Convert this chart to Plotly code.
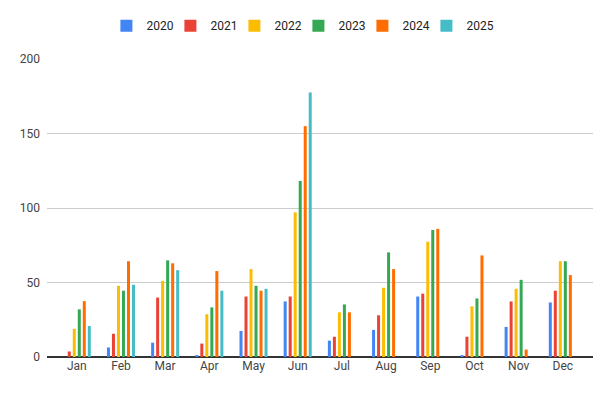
import plotly.graph_objects as go

months = ["Jan", "Feb", "Mar", "Apr", "May", "Jun", "Jul", "Aug", "Sep", "Oct", "Nov", "Dec"]
years = ["2020", "2021", "2022", "2023", "2024", "2025"]

v2020 = [0, 6.4, 9.6, 1.3, 17.5, 37.3, 11, 18.2, 40.6, 1.1, 20.2, 36.6]
v2021 = [3.7, 15.6, 39.9, 9, 40.6, 40.6, 13.6, 28, 42.5, 13.6, 37.3, 44.5]
v2022 = [18.9, 47.8, 51.1, 28.7, 59, 97.1, 30, 46.5, 77.4, 34, 45.8, 64.3]
v2023 = [32, 44.5, 64.9, 33.3, 47.8, 118.2, 35.3, 70.2, 85.3, 39.3, 51.8, 64.3]
v2024 = [37.5, 64.3, 62.9, 57.7, 44.5, 155, 30, 59, 86, 68.2, 5, 55]
v2025 = [20.8, 48.5, 58.3, 44.5, 45.8, 177.6, None, None, None, None, None, None]

series = [v2020, v2021, v2022, v2023, v2024, v2025]
colors = ["#4285F4", "#EA4335", "#FBBC04", "#34A853", "#FF6D01", "#46BDC6"]

fig = go.Figure()
for name, vals, col in zip(years, series, colors):
    fig.add_trace(go.Bar(x=months, y=vals, name=name, marker=dict(color=col, line=dict(width=0))))

# invisible spacer entry so the last legend label is not clipped
fig.add_trace(go.Scatter(x=[None], y=[None], name=" ", mode="lines",
                         line=dict(color="rgba(0,0,0,0)", width=0),
                         hoverinfo="skip", showlegend=True))

fig.update_layout(
    width=613, height=397,
    margin=dict(l=47, r=20, t=54, b=40),
    paper_bgcolor="white", plot_bgcolor="white",
    barmode="group", bargap=0.32, bargroupgap=0.4,
    font=dict(family="Roboto, Arial, sans-serif", size=12, color="#444444"),
    legend=dict(orientation="h", x=0.539, xanchor="center", xref="container",
                y=0.935, yanchor="middle", yref="container",
                font=dict(size=12, color="#222222"), itemwidth=30,
                entrywidth=19, entrywidthmode="pixels"),
    xaxis=dict(type="category", range=[-0.674, 11.683], showgrid=False, ticks="",
               tickfont=dict(size=12, color="#444444"), showline=False),
    yaxis=dict(range=[0, 200], tickvals=[0, 50, 100, 150, 200], gridcolor="#cccccc",
               zeroline=True, zerolinecolor="#333333", zerolinewidth=1.5,
               tickfont=dict(size=12, color="#444444"), ticks="", ticklabelstandoff=6),
)

fig.write_html("out.html", config={"displayModeBar": False},
               post_script="document.body.style.margin='0';")
